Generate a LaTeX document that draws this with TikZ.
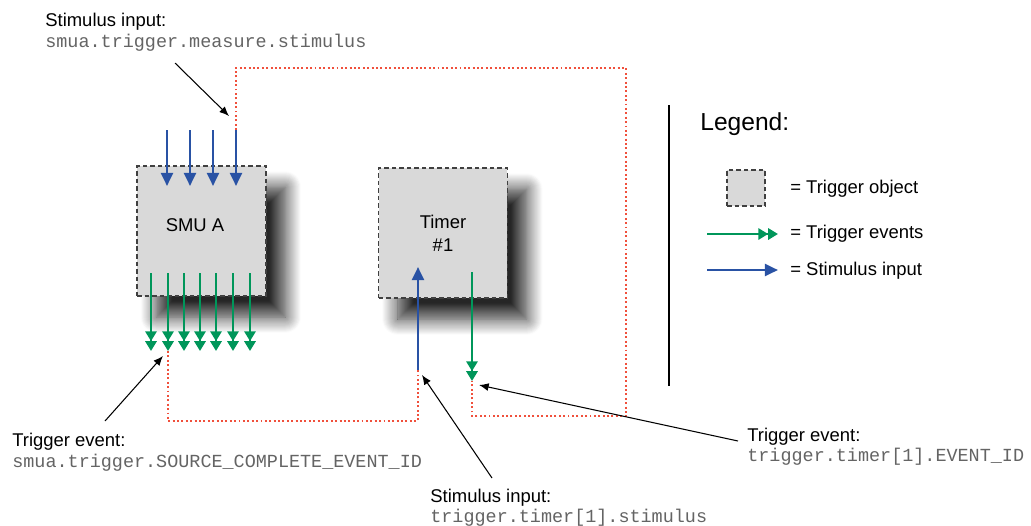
\documentclass[tikz,border=0pt]{standalone}
\usepackage{fontspec}
\setmainfont{Liberation Sans}
\setmonofont{Liberation Mono}
\usepackage{tikz}
\usetikzlibrary{arrows.meta, positioning, shadows.blur}
\definecolor{objgray}{RGB}{217,217,217}
\definecolor{stimblue}{RGB}{41,82,164}
\definecolor{evtgreen}{RGB}{0,150,90}
\definecolor{linkred}{RGB}{240,80,60}
\definecolor{codegray}{RGB}{100,100,100}

\begin{document}
\begin{tikzpicture}[
        x=0.02cm, y=-0.02cm,
        font=\fontsize{10.5}{12}\selectfont,
        trigobj/.style={draw=black!75, dashed, dash pattern=on 2.6pt off 1.7pt, line width=0.7pt, fill=objgray, minimum width=2.58cm, minimum height=2.6cm, inner sep=0pt},
        objshadow/.style={blur shadow={shadow xshift=11pt, shadow yshift=-12pt, shadow blur radius=9pt, shadow opacity=85, shadow blur steps=16}},
        stim/.style={-{Triangle[length=7.5pt, width=6.8pt]}, stimblue, line width=1.5pt},
        evt/.style={-{Triangle[length=5.6pt, width=6.4pt] Triangle[length=5.6pt, width=6.4pt]}, evtgreen, line width=1.3pt},
        link/.style={linkred, line width=1.5pt, dash pattern=on 1.1pt off 1.4pt},
        note/.style={-{Latex[length=5.5pt, width=4.5pt]}, line width=0.6pt},
        lbl/.style={anchor=base west, inner sep=0pt},
        code/.style={anchor=base west, inner sep=0pt, font=\fontsize{10.5}{12}\selectfont\ttfamily, text=codegray}
    ]
        \useasboundingbox (0,0) rectangle (1031,525);

        % trigger objects
        \node[trigobj, objshadow] (smu) at (201.5,231) {};
        \node (smulbl) at (195,225) {SMU A};
        \node[trigobj, objshadow, align=center] (tmr) at (443,233) {Timer\\[1pt]\#1};

        % stimulus inputs of SMU A
        \foreach \i/\x in {1/167, 2/190, 3/213, 4/236} {
            \coordinate (smuin\i) at (\x,130);
            \coordinate (smuintip\i) at (\x,186);
            \draw[stim] (smuin\i) -- (smuintip\i);
        }

        % trigger events of SMU A
        \foreach \i/\x in {1/151, 2/168, 3/184, 4/200, 5/216, 6/233, 7/250} {
            \coordinate (smuout\i) at (\x,273);
            \coordinate (smuouttip\i) at (\x,351);
            \draw[evt] (smuout\i) -- (smuouttip\i);
        }

        % timer stimulus and event
        \coordinate (tmrin) at (418,370);
        \coordinate (tmrintip) at (418,267);
        \draw[stim] (tmrin) -- (tmrintip);
        \coordinate (tmrout) at (472,272);
        \coordinate (tmrouttip) at (472,381);
        \draw[evt] (tmrout) -- (tmrouttip);

        % links
        \draw[link] (smuin4) -- (236,68) -- (626,68) -- (626,416) -- (472,416) -- (tmrouttip);
        \draw[link] (smuouttip2) -- (168,421) -- (418,421) -- (tmrin);

        % annotations
        \node[lbl] (smuinlbl) at (45,26) {Stimulus input:};
        \node[code] (smuincode) at (45,47) {smua.trigger.measure.stimulus};
        \coordinate (smuinfrom) at (175,63);
        \coordinate (smuinto) at (229,116);
        \draw[note] (smuinfrom) -- (smuinto);

        \node[lbl] (smuoutlbl) at (12,446) {Trigger event:};
        \node[code] (smuoutcode) at (12,467) {smua.trigger.SOURCE\_COMPLETE\_EVENT\_ID};
        \coordinate (smuoutfrom) at (105,421);
        \coordinate (smuoutto) at (163,356);
        \draw[note] (smuoutfrom) -- (smuoutto);

        \node[lbl] (tmrinlbl) at (430,502) {Stimulus input:};
        \node[code] (tmrincode) at (430,522) {trigger.timer[1].stimulus};
        \coordinate (tmrinfrom) at (492,478);
        \coordinate (tmrinto) at (422,375);
        \draw[note] (tmrinfrom) -- (tmrinto);

        \node[lbl] (tmroutlbl) at (747,441) {Trigger event:};
        \node[code] (tmroutcode) at (747,461) {trigger.timer[1].EVENT\_ID};
        \coordinate (tmroutfrom) at (738,441);
        \coordinate (tmroutto) at (479,385);
        \draw[note] (tmroutfrom) -- (tmroutto);

        % legend
        \coordinate (septop) at (669,105);
        \coordinate (sepbot) at (669,386);
        \draw[line width=1.6pt] (septop) -- (sepbot);
        \node[lbl, font=\fontsize{14}{16}\selectfont] (legend) at (700,130) {Legend:};
        \node[trigobj, minimum width=0.76cm, minimum height=0.72cm] (legobj) at (746,188) {};
        \node[lbl] (legobjtxt) at (790,193) {= Trigger object};
        \coordinate (legevtA) at (707,234);
        \coordinate (legevtB) at (778,234);
        \draw[evt] (legevtA) -- (legevtB);
        \node[lbl] (legevttxt) at (790,238) {= Trigger events};
        \coordinate (legstimA) at (707,270);
        \coordinate (legstimB) at (778,270);
        \draw[stim] (legstimA) -- (legstimB);
        \node[lbl] (legstimtxt) at (790,275) {= Stimulus input};
    \end{tikzpicture}
\end{document}
